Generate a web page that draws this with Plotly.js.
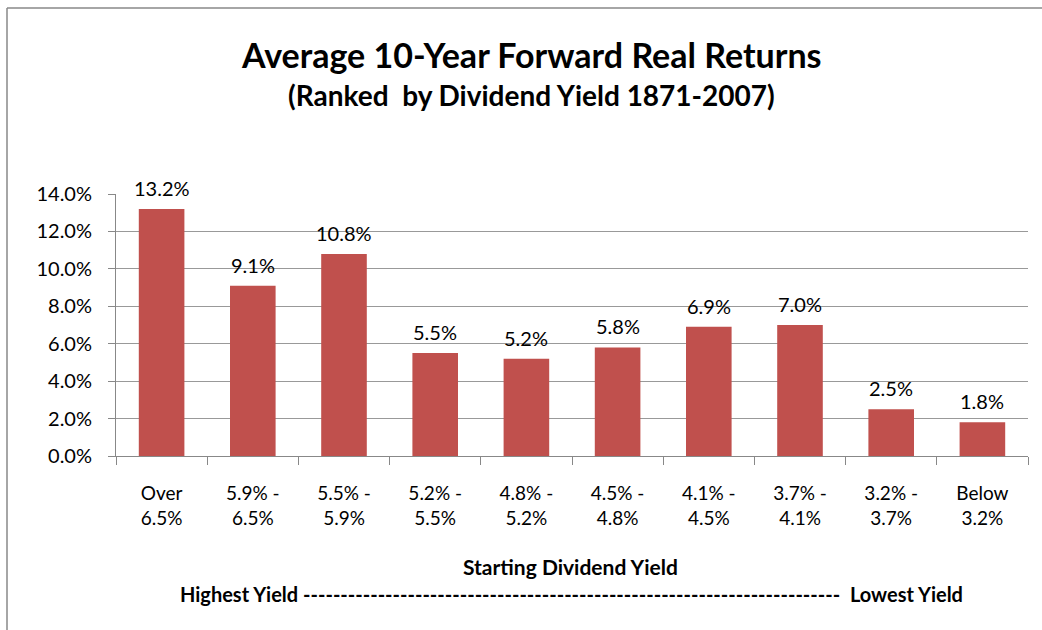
<!DOCTYPE html>
<html>
<head>
<meta charset="utf-8">
<script src="https://cdn.plot.ly/plotly-3.0.1.min.js"></script>
<style>html,body{margin:0;padding:0;background:#fff;}#chart{width:1042px;height:630px;}</style>
</head>
<body>
<div id="chart"></div>
<script>
const categories = ["Over<br>6.5%", "5.9% -<br>6.5%", "5.5% -<br>5.9%", "5.2% -<br>5.5%", "4.8% -<br>5.2%", "4.5% -<br>4.8%", "4.1% -<br>4.5%", "3.7% -<br>4.1%", "3.2% -<br>3.7%", "Below<br>3.2%"];
const returns = [13.2, 9.1, 10.8, 5.5, 5.2, 5.8, 6.9, 7.0, 2.5, 1.8];
const yTicks = [0, 2, 4, 6, 8, 10, 12, 14];
const yTickLabels = yTicks.map(v => v.toFixed(1) + "%");

const W = 1042, H = 630;
const m = {l: 116, r: 14, t: 194, b: 174};
const pw = W - m.l - m.r, ph = H - m.t - m.b;
const px = x => (x - m.l) / pw;
const py = y => (H - m.b - y) / ph;

const trace = {
  type: "bar",
  x: categories,
  y: returns,
  marker: {color: "#C0504D"},
  cliponaxis: false,
  hoverinfo: "skip"
};

const valueLabels = categories.map((c, i) => ({
  text: returns[i].toFixed(1) + "%",
  xref: "x", yref: "y", x: c, y: returns[i],
  xanchor: "center", yanchor: "bottom", yshift: 7,
  showarrow: false,
  font: {size: 20, color: "#000"}
}));

const layout = {
  width: W, height: H,
  margin: m,
  paper_bgcolor: "#fff",
  plot_bgcolor: "#fff",
  showlegend: false,
  bargap: 0.5,
  font: {family: "Lato, 'Open Sans', sans-serif", color: "#000"},
  xaxis: {
    type: "category",
    tickson: "boundaries",
    ticks: "outside",
    ticklen: 8,
    tickcolor: "#888",
    showline: true,
    linecolor: "#888",
    showgrid: false,
    tickfont: {size: 19, color: "#000"},
    ticklabelstandoff: 20,
    automargin: false
  },
  yaxis: {
    range: [0, 14],
    tickvals: yTicks,
    ticktext: yTickLabels,
    ticks: "outside",
    ticklen: 7,
    tickcolor: "#888",
    showline: true,
    linecolor: "#888",
    showgrid: true,
    gridcolor: "#999",
    gridwidth: 1,
    zeroline: false,
    tickfont: {size: 20, color: "#000"},
    ticklabelstandoff: 12,
    automargin: false
  },
  annotations: valueLabels.concat([
    {text: "<b>Average 10-Year Forward Real Returns</b>", xref: "paper", yref: "paper", x: px(531), y: py(54), xanchor: "center", yanchor: "middle", showarrow: false, font: {size: 34, color: "#000"}},
    {text: "<b>(Ranked  by Dividend Yield 1871-2007)</b>", xref: "paper", yref: "paper", x: px(531), y: py(95), xanchor: "center", yanchor: "middle", showarrow: false, font: {size: 28, color: "#000"}},
    {text: "<b>Starting Dividend Yield</b>", xref: "paper", yref: "paper", x: px(570), y: py(566), xanchor: "center", yanchor: "middle", showarrow: false, font: {size: 21, color: "#000"}},
    {text: "<b>Highest Yield ------------------------------------------------------------------------  Lowest Yield</b>", xref: "paper", yref: "paper", x: px(571), y: py(594), xanchor: "center", yanchor: "middle", showarrow: false, font: {size: 20, color: "#000"}}
  ]),
  shapes: [
    {type: "line", xref: "paper", yref: "paper", x0: px(7), x1: px(1042), y0: py(8), y1: py(8), line: {color: "#888", width: 1.5}},
    {type: "line", xref: "paper", yref: "paper", x0: px(7), x1: px(7), y0: py(8), y1: py(630), line: {color: "#888", width: 1.5}}
  ]
};

Plotly.newPlot("chart", [trace], layout, {displayModeBar: false, staticPlot: true});
</script>
</body>
</html>
